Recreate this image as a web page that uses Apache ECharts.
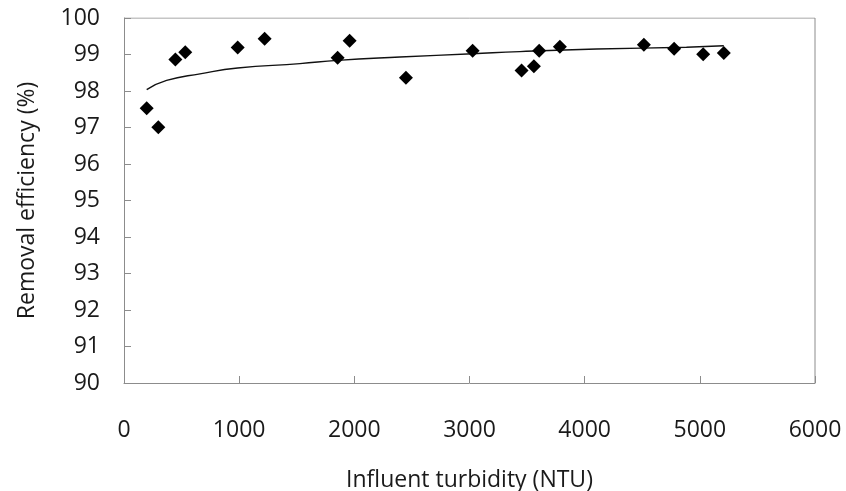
<!DOCTYPE html>
<html>
<head>
<meta charset="utf-8">
<script src="https://cdn.jsdelivr.net/npm/echarts@6/dist/echarts.min.js"></script>
<style>
  html, body { margin: 0; padding: 0; background: #fff; }
  #chart { width: 846px; height: 491px; }
</style>
</head>
<body>
<div id="chart"></div>
<script>
// measured points (influent turbidity NTU, removal efficiency %)
const turbidity = [197, 298, 446, 532, 987, 1221, 1855, 1959, 2448, 3027, 3452, 3559, 3605, 3785, 4514, 4777, 5029, 5208];
const efficiency = [97.53, 97.01, 98.86, 99.06, 99.19, 99.43, 98.91, 99.38, 98.36, 99.10, 98.56, 98.68, 99.10, 99.21, 99.27, 99.16, 99.01, 99.04];

// trend line
const trendX = [197, 370, 660, 987, 1528, 1855, 2396, 3027, 3437, 4103, 4884, 5208];
const trendY = [98.04, 98.29, 98.47, 98.63, 98.75, 98.84, 98.93, 99.02, 99.08, 99.15, 99.20, 99.24];

const xTicks = [0, 1000, 2000, 3000, 4000, 5000, 6000];
const yTicks = [90, 91, 92, 93, 94, 95, 96, 97, 98, 99, 100];

const font = 'Open Sans';
const axisGray = '#8c8c8c';
const textColor = '#1a1a1a';

const chart = echarts.init(document.getElementById('chart'));

chart.setOption({
  backgroundColor: '#fff',
  animation: false,
  grid: { left: 124, top: 18, right: 31, bottom: 108, outerBoundsMode: 'none', containLabel: false },
  xAxis: {
    type: 'value',
    min: xTicks[0],
    max: xTicks[xTicks.length - 1],
    interval: 1000,
    name: 'Influent turbidity (NTU)',
    nameLocation: 'middle',
    nameGap: 86,
    nameTextStyle: { fontFamily: font, fontSize: 23, color: textColor },
    axisLine: { show: true, onZero: false, lineStyle: { color: axisGray, width: 1 } },
    axisTick: { show: true, inside: true, length: 7, lineStyle: { color: axisGray } },
    axisLabel: { margin: 36, fontFamily: font, fontSize: 23, color: textColor, formatter: (v) => String(v) },
    splitLine: { show: false }
  },
  yAxis: {
    type: 'value',
    min: yTicks[0],
    max: yTicks[yTicks.length - 1],
    interval: 1,
    name: 'Removal efficiency (%)',
    nameLocation: 'middle',
    nameGap: 85,
    nameTextStyle: { fontFamily: font, fontSize: 23, color: textColor },
    axisLine: { show: true, lineStyle: { color: axisGray, width: 1 } },
    axisTick: { show: true, inside: true, length: 7, lineStyle: { color: axisGray } },
    axisLabel: { margin: 24, fontFamily: font, fontSize: 23, color: textColor, formatter: (v) => String(v) },
    splitLine: { show: false }
  },
  series: [
    {
      type: 'line',
      data: trendX.map((x, i) => [x, trendY[i]]),
      smooth: true,
      showSymbol: false,
      lineStyle: { color: '#111', width: 1.4 },
      z: 2
    },
    {
      type: 'scatter',
      data: turbidity.map((x, i) => [x, efficiency[i]]),
      symbol: 'diamond',
      symbolSize: 14,
      itemStyle: { color: '#000', opacity: 1 },
      z: 3
    },
    {
      // right and top frame of the plot area
      type: 'line',
      data: [[6000, 90], [6000, 100], [0, 100]],
      showSymbol: false,
      silent: true,
      lineStyle: { color: axisGray, width: 1 },
      z: 1
    }
  ]
});
</script>
</body>
</html>
